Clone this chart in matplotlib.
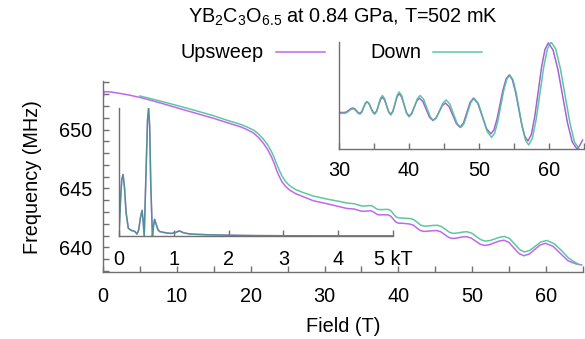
import matplotlib
matplotlib.use("Agg")
import matplotlib.pyplot as plt
from matplotlib.ticker import MultipleLocator, FixedLocator
from matplotlib.lines import Line2D

plt.rcParams['font.family'] = ['Liberation Sans', 'DejaVu Sans']
plt.rcParams['mathtext.fontset'] = 'custom'
plt.rcParams['mathtext.rm'] = 'Liberation Sans'
plt.rcParams['mathtext.it'] = 'Liberation Sans'

# ---------------- data ----------------
# main panel: Frequency (MHz) vs Field (T)
up_field = [0.0, 0.05, 0.15, 1.0, 2.0, 3.4, 5.0, 6.5, 8.0, 10.0, 12.5, 15.0, 17.0, 18.6,
            19.5, 20.4, 21.1, 21.7, 22.3, 22.8, 23.2, 23.5, 23.9, 24.2, 24.7, 25.3, 26.1,
            27.1, 28.5, 30.7, 32.0, 33.0, 34.0, 35.1, 35.65, 36.2, 36.5, 36.8, 37.1, 37.4,
            38.0, 38.6, 38.95, 39.3, 39.65, 40.0, 40.75, 41.5, 41.98, 42.45, 42.93, 43.4,
            43.85, 44.3, 44.75, 45.2, 45.73, 46.25, 46.78, 47.3, 47.78, 48.25, 48.73, 49.2,
            49.83, 50.45, 51.08, 51.7, 52.35, 53.0, 53.65, 54.3, 54.98, 55.65, 56.33, 57.0,
            57.73, 58.45, 59.18, 59.9, 60.93, 61.95, 62.98, 64.0, 64.4, 64.8]
up_freq = [653.5, 652.8, 653.22, 653.2, 653.1, 652.95, 652.73, 652.48, 652.22, 651.85,
           651.4, 650.95, 650.55, 650.24, 650.0, 649.7, 649.3, 648.85, 648.3, 647.7, 647.1,
           646.55, 645.98, 645.6, 645.18, 644.85, 644.55, 644.3, 643.95, 643.65, 643.45,
           643.3, 643.25, 643.05, 643.075, 643.1, 643.05, 642.925, 642.8, 642.75, 642.76,
           642.75, 642.65, 642.4, 642.15, 642.05, 642.03, 641.98, 641.89, 641.67, 641.44,
           641.35, 641.36, 641.39, 641.41, 641.42, 641.32, 641.09, 640.85, 640.75, 640.77,
           640.83, 640.88, 640.9, 640.79, 640.53, 640.26, 640.15, 640.22, 640.38, 640.53,
           640.6, 640.41, 639.94, 639.47, 639.28, 639.43, 639.81, 640.19, 640.34, 640.09,
           639.47, 638.85, 638.6, 638.54, 638.5]

down_field = [5.0, 6.5, 8.0, 10.0, 12.5, 15.0, 17.0, 18.6, 19.5, 20.4, 21.1, 21.7, 22.3,
              22.8, 23.2, 23.5, 23.9, 24.2, 24.7, 25.3, 26.1, 27.1, 28.5, 30.7, 32.0, 33.0,
              34.0, 35.1, 35.65, 36.2, 36.5, 36.8, 37.1, 37.4, 38.0, 38.6, 38.95, 39.3,
              39.65, 40.0, 40.8, 41.6, 42.08, 42.55, 43.03, 43.5, 43.95, 44.4, 44.85, 45.3,
              45.83, 46.35, 46.88, 47.4, 47.88, 48.35, 48.83, 49.3, 49.93, 50.55, 51.18,
              51.8, 52.45, 53.1, 53.75, 54.4, 55.08, 55.75, 56.43, 57.1, 57.83, 58.55, 59.28,
              60.1, 61.1, 62.1, 63.1, 64.0, 64.4]
down_freq = [652.85, 652.62, 652.38, 652.05, 651.62, 651.17, 650.75, 650.45, 650.22, 649.95,
             649.6, 649.2, 648.7, 648.15, 647.6, 647.1, 646.5, 646.1, 645.6, 645.22, 644.9,
             644.65, 644.35, 644.05, 643.9, 643.76, 643.7, 643.5, 643.52, 643.55, 643.5,
             643.37, 643.24, 643.2, 643.21, 643.22, 643.12, 642.86, 642.6, 642.5, 642.47,
             642.44, 642.35, 642.12, 641.88, 641.8, 641.81, 641.84, 641.86, 641.87, 641.76,
             641.53, 641.29, 641.18, 641.2, 641.25, 641.3, 641.32, 641.2, 640.92, 640.64,
             640.52, 640.58, 640.72, 640.86, 640.92, 640.73, 640.27, 639.8, 639.6, 639.75,
             640.1, 640.45, 640.58, 640.3, 639.72, 639.05, 638.7, 638.56]

# FFT inset: amplitude (arb.) vs frequency (kT)
fft_kT = [0.0, 0.03, 0.05, 0.074, 0.1, 0.13, 0.17, 0.22, 0.29, 0.33, 0.36, 0.39, 0.42,
          0.44, 0.46, 0.49, 0.52, 0.54, 0.56, 0.58, 0.61, 0.63, 0.65, 0.68, 0.71, 0.74,
          0.85, 0.95, 1.02, 1.1, 1.18, 1.3, 1.6, 2.0, 2.5, 3.0, 4.0, 5.0]
fft_amp = [0.02, 0.3, 0.44, 0.48, 0.38, 0.18, 0.06, 0.045, 0.035, 0.015, 0.05, 0.14, 0.2,
           0.12, 0.0, 0.45, 0.9, 1.0, 0.85, 0.4, 0.0, 0.08, 0.13, 0.09, 0.05, 0.035,
           0.025, 0.02, 0.025, 0.04, 0.025, 0.015, 0.01, 0.006, 0.003, 0.002, 0.001, 0.001]

# oscillation inset: background-subtracted signal vs Field (T)
osc_up_field = [30.0, 30.4, 30.8, 31.1, 31.4, 31.7, 32.0, 32.25, 32.5, 32.75, 33.0, 33.25,
                33.5, 33.75, 34.0, 34.28, 34.55, 34.83, 35.1, 35.38, 35.65, 35.93, 36.2,
                36.5, 36.8, 37.1, 37.4, 37.7, 38.0, 38.3, 38.6, 38.95, 39.3, 39.65, 40.0,
                40.38, 40.75, 41.13, 41.5, 41.98, 42.45, 42.93, 43.4, 43.85, 44.3, 44.75,
                45.2, 45.73, 46.25, 46.78, 47.3, 47.78, 48.25, 48.73, 49.2, 49.83, 50.45,
                51.08, 51.7, 52.13, 52.57, 53.0, 53.43, 53.87, 54.3, 54.75, 55.2, 55.65,
                56.1, 56.55, 57.0, 57.48, 57.97, 58.45, 58.93, 59.42, 59.9, 60.58, 61.27,
                61.95, 62.63, 63.32, 64.0, 64.4, 64.8]
osc_up_val = [-0.19, -0.19, -0.19, -0.183, -0.165, -0.147, -0.14, -0.149, -0.17, -0.191,
              -0.20, -0.181, -0.135, -0.089, -0.07, -0.089, -0.135, -0.181, -0.20, -0.174,
              -0.11, -0.046, -0.02, -0.048, -0.115, -0.182, -0.21, -0.176, -0.095, -0.014,
              0.02, -0.017, -0.105, -0.194, -0.23, -0.201, -0.13, -0.059, -0.03, -0.067,
              -0.155, -0.244, -0.28, -0.252, -0.183, -0.113, -0.085, -0.124, -0.22, -0.316,
              -0.355, -0.308, -0.193, -0.077, -0.03, -0.088, -0.23, -0.372, -0.43, -0.386,
              -0.265, -0.10, 0.065, 0.186, 0.23, 0.18, 0.045, -0.14, -0.325, -0.46, -0.51,
              -0.436, -0.235, 0.04, 0.315, 0.516, 0.59, 0.51, 0.293, -0.005, -0.303, -0.52,
              -0.60, -0.56, -0.50]

osc_down_field = [30.0, 30.4, 30.8, 31.1, 31.4, 31.7, 32.0, 32.25, 32.5, 32.75, 33.0, 33.25,
                  33.5, 33.75, 34.0, 34.28, 34.55, 34.83, 35.1, 35.38, 35.65, 35.93, 36.2,
                  36.5, 36.8, 37.1, 37.4, 37.7, 38.0, 38.3, 38.6, 38.95, 39.3, 39.65, 40.0,
                  40.4, 40.8, 41.2, 41.6, 42.08, 42.55, 43.03, 43.5, 43.95, 44.4, 44.85,
                  45.3, 45.83, 46.35, 46.88, 47.4, 47.88, 48.35, 48.83, 49.3, 49.93, 50.55,
                  51.18, 51.8, 52.23, 52.67, 53.1, 53.53, 53.97, 54.4, 54.85, 55.3, 55.75,
                  56.2, 56.65, 57.1, 57.63, 58.17, 58.7, 59.23, 59.77, 60.3, 60.97, 61.63,
                  62.3, 62.97, 63.63, 64.3]
osc_down_val = [-0.20, -0.20, -0.20, -0.193, -0.175, -0.157, -0.15, -0.159, -0.18, -0.201,
                -0.21, -0.19, -0.14, -0.09, -0.07, -0.09, -0.14, -0.19, -0.21, -0.179,
                -0.105, -0.031, 0.0, -0.032, -0.11, -0.188, -0.22, -0.182, -0.09, 0.002,
                0.04, -0.001, -0.10, -0.199, -0.24, -0.205, -0.12, -0.035, 0.0, -0.041,
                -0.14, -0.239, -0.28, -0.246, -0.165, -0.084, -0.05, -0.095, -0.205, -0.315,
                -0.36, -0.312, -0.195, -0.078, -0.03, -0.094, -0.25, -0.406, -0.47, -0.423,
                -0.295, -0.12, 0.055, 0.183, 0.23, 0.177, 0.034, -0.163, -0.359, -0.502,
                -0.555, -0.478, -0.266, 0.023, 0.311, 0.523, 0.60, 0.52, 0.30, 0.0, -0.30,
                -0.52, -0.60]

main_xticks = [0, 10, 20, 30, 40, 50, 60]
main_yticks = [640, 645, 650]
fft_ticks = [0, 1, 2, 3, 4, 5]
fft_ticklabels = ['0', '1', '2', '3', '4', '5 kT']
osc_ticks = [30, 40, 50, 60]

title = 'YB$_2$C$_3$O$_{6.5}$ at 0.84 GPa, T=502 mK'
labels = ['Upsweep', 'Down']

# ---------------- style ----------------
W, H = 585, 339
C_UP = '#c266f0'
C_DOWN = '#5cc8a0'
C_FFT = '#4f8f96'
SPINE = '#707070'
FS = 14.3
LW = 1.1

fig = plt.figure(figsize=(W / 100, H / 100), dpi=100)


def px_axes(l, r, b, t):
    return fig.add_axes([l / W, 1 - b / H, (r - l) / W, (b - t) / H])


def style(ax):
    for s in ('top', 'right'):
        ax.spines[s].set_visible(False)
    for s in ('left', 'bottom'):
        ax.spines[s].set_color(SPINE)
        ax.spines[s].set_linewidth(1.0)
    ax.tick_params(which='both', direction='in', length=4, width=1.0, color=SPINE,
                   labelsize=FS, labelcolor='black')
    ax.patch.set_alpha(0)


# main axes
ax = px_axes(103, 583, 272, 81.3)
style(ax)
ax.plot(up_field, up_freq, color=C_UP, lw=LW)
ax.plot(down_field, down_freq, color=C_DOWN, lw=LW)
ax.set_xlim(0, 65)
ax.set_ylim(637.9, 654.1)
ax.xaxis.set_major_locator(FixedLocator(main_xticks))
ax.xaxis.set_minor_locator(MultipleLocator(5))
ax.yaxis.set_major_locator(FixedLocator(main_yticks))
ax.yaxis.set_minor_locator(MultipleLocator(1))
ax.tick_params(axis='x', which='both', pad=11)
ax.tick_params(axis='y', which='both', pad=8)
ax.set_xlabel('Field (T)', fontsize=FS, labelpad=8)
ax.set_ylabel('Frequency (MHz)', fontsize=FS, labelpad=12)

# FFT inset
ax1 = px_axes(119, 393, 236, 108)
style(ax1)
ax1.plot(fft_kT, fft_amp, color=C_UP, lw=LW, alpha=0.6)
ax1.plot(fft_kT, fft_amp, color=C_FFT, lw=LW)
ax1.set_xlim(0, 5)
ax1.set_ylim(0, 1.0)
ax1.set_yticks([])
ax1.set_xticks(fft_ticks)
ax1.set_xticklabels(fft_ticklabels)
ax1.tick_params(axis='x', pad=10)

# oscillation inset
ax2 = px_axes(339, 584, 149, 42)
style(ax2)
ax2.plot(osc_up_field, osc_up_val, color=C_UP, lw=LW)
ax2.plot(osc_down_field, osc_down_val, color=C_DOWN, lw=LW)
ax2.plot(osc_up_field, osc_up_val, color='#4a5d8f', lw=0.6, alpha=0.35)
ax2.set_xlim(30, 65)
ax2.set_ylim(-0.6, 0.6)
ax2.set_yticks([])
ax2.xaxis.set_major_locator(FixedLocator(osc_ticks))
ax2.xaxis.set_minor_locator(MultipleLocator(5))
ax2.tick_params(axis='x', which='both', pad=9)

# title and legend
fig.text(343 / W, 1 - 17 / H, title, ha='center', va='center', fontsize=FS)
handles = [Line2D([], [], color=C_UP, lw=LW), Line2D([], [], color=C_DOWN, lw=LW)]
fig.legend(handles, labels, loc='center', bbox_to_anchor=(331.5 / W, 1 - 53 / H),
           ncol=2, frameon=False, markerfirst=False, fontsize=FS, handlelength=2.5,
           handletextpad=0.6, columnspacing=2.25, borderpad=0, borderaxespad=0)

fig.savefig('out.png', dpi=100)
